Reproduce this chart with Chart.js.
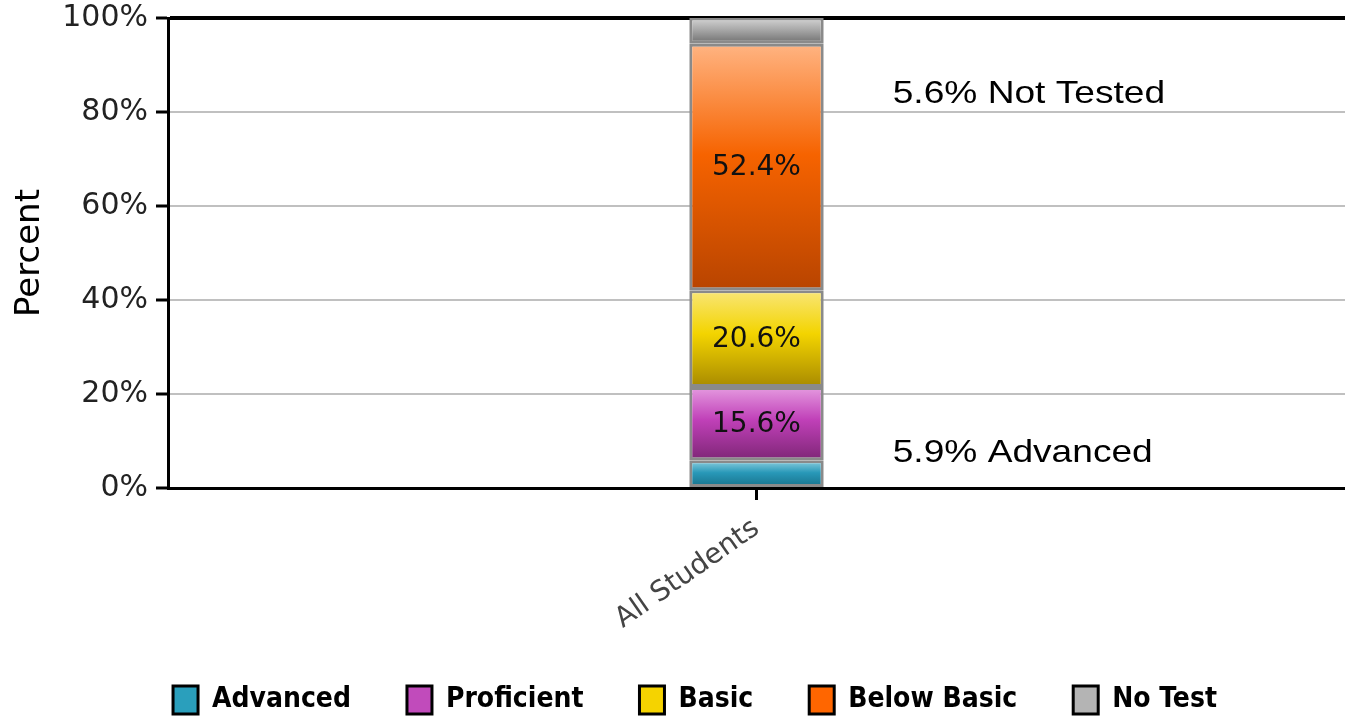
<!DOCTYPE html>
<html>
<head>
<meta charset="utf-8">
<script src="https://cdn.jsdelivr.net/npm/chart.js@4.4.1/dist/chart.umd.min.js"></script>
<style>
  html, body { margin:0; padding:0; background:#fff; }
  #wrap { width:1345px; height:717px; }
</style>
</head>
<body>
<div id="wrap"><canvas id="levels"></canvas></div>
<script>
const categories = ['All Students'];
const levelNames = ['Advanced', 'Proficient', 'Basic', 'Below Basic', 'No Test'];
const advanced = [5.9];
const proficient = [15.6];
const basic = [20.6];
const belowBasic = [52.4];
const noTest = [5.6];
const yTicks = [0, 20, 40, 60, 80, 100];

const legendColors = ['#2a9fbc', '#c14bbb', '#f5d300', '#ff6600', '#b4b4b4'];
// light / mid / dark for the bevel look of each segment
const shades = [
  ['#8fd0e0', '#2898b8', '#176f88'],
  ['#e59be0', '#c040b8', '#7e2676'],
  ['#f9e678', '#f3d400', '#a88a00'],
  ['#ffb482', '#f66300', '#b84400'],
  ['#d4d4d4', '#a8a8a8', '#6e6e6e']
];

const notes = [
  { text: '5.6% Not Tested', value: 81.9 },
  { text: '5.9% Advanced', value: 5.6 }
];

function segmentFill(ctx){
  const chart = ctx.chart;
  const s = shades[ctx.datasetIndex];
  if (!chart.chartArea || ctx.type !== 'data') return s[1];
  const y = chart.scales.y;
  let start = 0;
  for (let i = 0; i < ctx.datasetIndex; i++) start += chart.data.datasets[i].data[ctx.dataIndex];
  const end = start + ctx.raw;
  const y0 = y.getPixelForValue(Math.min(end, 100));
  const y1 = y.getPixelForValue(start);
  const g = chart.ctx.createLinearGradient(0, y0, 0, y1);
  g.addColorStop(0, s[0]);
  g.addColorStop(0.45, s[1]);
  g.addColorStop(1, s[2]);
  return g;
}

const seriesData = [advanced, proficient, basic, belowBasic, noTest];

const segmentLabels = {
  id: 'segmentLabels',
  afterDatasetsDraw(chart){
    const c = chart.ctx;
    c.save();
    c.font = '28px "DejaVu Sans", Verdana, sans-serif';
    c.fillStyle = '#111';
    c.textAlign = 'center';
    c.textBaseline = 'middle';
    chart.data.datasets.forEach((ds, di) => {
      const meta = chart.getDatasetMeta(di);
      meta.data.forEach((el, i) => {
        const v = ds.data[i];
        if (v < 10) return;
        const p = el.getProps(['x', 'y', 'base'], true);
        c.fillText(v.toFixed(1) + '%', p.x, (p.y + p.base) / 2 + 1);
      });
    });
    // side notes
    const bar = chart.getDatasetMeta(0).data[0];
    const bp = bar.getProps(['x', 'width'], true);
    c.font = '32px "Liberation Sans", Arial, sans-serif';
    c.fillStyle = '#000';
    c.textAlign = 'left';
    c.textBaseline = 'alphabetic';
    notes.forEach(n => {
      c.save();
      c.translate(bp.x + bp.width / 2 + 69, chart.scales.y.getPixelForValue(n.value));
      c.scale(1.16, 1);
      c.fillText(n.text, 0, 0);
      c.restore();
    });
    c.restore();
  }
};

new Chart(document.getElementById('levels').getContext('2d'), {
  type: 'bar',
  data: {
    labels: categories,
    datasets: seriesData.map((d, i) => ({
      label: levelNames[i],
      data: d,
      backgroundColor: segmentFill,
      borderColor: '#8a8a8a',
      borderWidth: 3,
      borderSkipped: false,
      barPercentage: 1,
      categoryPercentage: 0.1142
    }))
  },
  options: {
    responsive: true,
    maintainAspectRatio: false,
    animation: false,
    layout: { padding: { left: 40, top: 18, right: -5, bottom: -7 } },
    plugins: {
      tooltip: { enabled: false },
      legend: {
        position: 'bottom',
        labels: {
          color: '#000',
          font: { family: '"DejaVu Sans Condensed", "DejaVu Sans", sans-serif', size: 28, weight: 'bold' },
          boxWidth: 25,
          boxHeight: 28,
          padding: 56,
          generateLabels: chart => chart.data.datasets.map((ds, i) => ({
            text: ds.label,
            fillStyle: legendColors[i],
            strokeStyle: '#000',
            lineWidth: 3,
            datasetIndex: i,
            fontColor: '#000'
          }))
        }
      }
    },
    scales: {
      x: {
        stacked: true,
        afterFit: s => { s.height = 142; s.paddingLeft = 0; s.paddingRight = 0; },
        border: { display: true, color: '#000', width: 3 },
        grid: { display: true, offset: false, drawOnChartArea: false, drawTicks: true, tickLength: 12, color: '#000', lineWidth: 3 },
        ticks: {
          color: '#444',
          font: { family: '"DejaVu Sans", Verdana, sans-serif', size: 28 },
          minRotation: 35,
          maxRotation: 35,
          padding: 12
        }
      },
      y: {
        stacked: true,
        min: 0,
        max: 100,
        afterFit: s => { s.width = 128; s.paddingTop = 0; s.paddingBottom = 0; },
        afterBuildTicks: s => { s.ticks = yTicks.map(v => ({ value: v })); },
        border: { display: true, color: '#000', width: 3 },
        grid: {
          color: c => c.tick && c.tick.value === 100 ? '#000' : '#c0c0c0',
          lineWidth: c => c.tick && c.tick.value === 100 ? 4 : 2,
          tickColor: '#000',
          tickWidth: 3,
          tickLength: 12
        },
        ticks: {
          color: '#222',
          font: { family: '"DejaVu Sans", Verdana, sans-serif', size: 30 },
          padding: 8,
          callback: v => v + '%'
        },
        title: {
          display: true,
          text: 'Percent',
          color: '#000',
          font: { family: '"DejaVu Sans", Verdana, sans-serif', size: 34 },
          padding: { top: -30, bottom: 0 }
        }
      }
    }
  },
  plugins: [segmentLabels]
});
</script>
</body>
</html>
